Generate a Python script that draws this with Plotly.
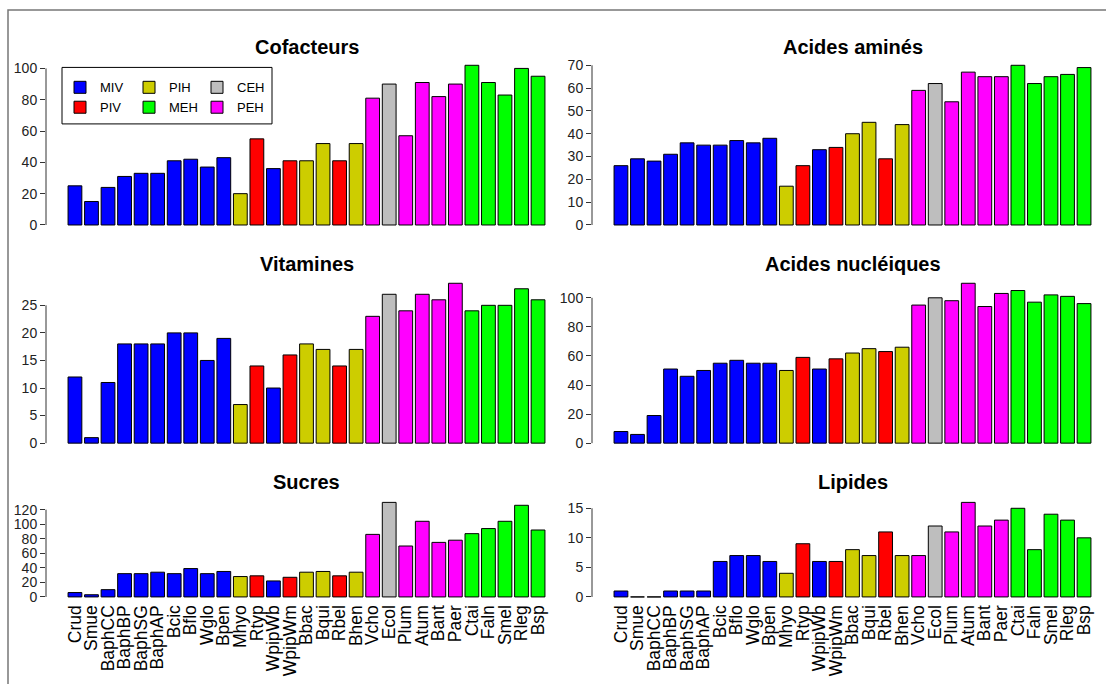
import plotly.graph_objects as go

species = ["Crud", "Smue", "BaphCC", "BaphBP", "BaphSG", "BaphAP", "Bcic", "Bflo", "Wglo", "Bpen",
           "Mhyo", "Rtyp", "WpipWb", "WpipWm", "Bbac", "Bqui", "Rbel", "Bhen", "Vcho", "Ecol",
           "Plum", "Atum", "Bant", "Paer", "Ctai", "Faln", "Smel", "Rleg", "Bsp"]
groups = ["MIV"] * 10 + ["PIH", "PIV", "MIV", "PIV", "PIH", "PIH", "PIV", "PIH", "PEH", "CEH",
                         "PEH", "PEH", "PEH", "PEH"] + ["MEH"] * 5

# legend columns (R legend with ncol = 3)
legend_columns = [["MIV", "PIV"], ["PIH", "MEH"], ["CEH", "PEH"]]
group_colors = {"MIV": "#0000FF", "PIV": "#FF0000", "PIH": "#CDCD00",
                "MEH": "#00FF00", "CEH": "#BEBEBE", "PEH": "#FF00FF"}

cofacteurs = [25, 15, 24, 31, 33, 33, 41, 42, 37, 43, 20, 55, 36, 41, 41, 52, 41, 52, 81, 90,
              57, 91, 82, 90, 102, 91, 83, 100, 95]
acides_amines = [26, 29, 28, 31, 36, 35, 35, 37, 36, 38, 17, 26, 33, 34, 40, 45, 29, 44, 59, 62,
                 54, 67, 65, 65, 70, 62, 65, 66, 69]
vitamines = [12, 1, 11, 18, 18, 18, 20, 20, 15, 19, 7, 14, 10, 16, 18, 17, 14, 17, 23, 27,
             24, 27, 26, 29, 24, 25, 25, 28, 26]
acides_nucleiques = [8, 6, 19, 51, 46, 50, 55, 57, 55, 55, 50, 59, 51, 58, 62, 65, 63, 66, 95, 100,
                     98, 110, 94, 103, 105, 97, 102, 101, 96]
sucres = [6, 3, 10, 32, 32, 34, 32, 39, 32, 35, 28, 29, 22, 27, 34, 35, 29, 34, 86, 130,
          70, 104, 75, 78, 87, 94, 104, 126, 92]
lipides = [1, 0, 0, 1, 1, 1, 6, 7, 7, 6, 4, 9, 6, 6, 8, 7, 11, 7, 7, 12,
           11, 16, 12, 13, 15, 8, 14, 13, 10]

panels = [
    ("Cofacteurs", cofacteurs, 20),
    ("Acides aminés", acides_amines, 10),
    ("Vitamines", vitamines, 5),
    ("Acides nucléiques", acides_nucleiques, 20),
    ("Sucres", sucres, 20),
    ("Lipides", lipides, 5),
]

W, H = 1106, 684
FONT = "Liberation Sans, Arial, Helvetica, sans-serif"

# plot regions in pixels
col_x = [(46, 567), (592, 1113)]
row_y = [(57.4, 231.4), (277.3, 451.5), (501.0, 604.0)]
title_y = [45, 264, 484]
legend_box = (62, 66, 272, 123)      # x0, y0, x1, y1 (px)
legend_col_x = [60, 129, 197]
legend_top = 71

fig = go.Figure()
layout = dict(
    width=W, height=H, margin=dict(l=0, r=0, t=0, b=0),
    paper_bgcolor="white", plot_bgcolor="white",
    barmode="overlay", bargap=0.2 / 1.2,
    font=dict(family=FONT, color="black"),
    showlegend=True,
)
annotations = []
shapes = []

legend_of = {}
for i, col in enumerate(legend_columns):
    for g in col:
        legend_of[g] = "legend" if i == 0 else f"legend{i + 1}"
trace_order = [g for col in legend_columns for g in col]

for k, (title, vals, dtick) in enumerate(panels):
    r, c = divmod(k, 2)
    ax = k + 1
    xname = "xaxis" if ax == 1 else f"xaxis{ax}"
    yname = "yaxis" if ax == 1 else f"yaxis{ax}"
    xref = "x" if ax == 1 else f"x{ax}"
    yref = "y" if ax == 1 else f"y{ax}"
    x0, x1 = col_x[c]
    y0, y1 = row_y[r]
    for g in trace_order:
        xs = [s for s, gg in zip(species, groups) if gg == g]
        ys = [v for v, gg in zip(vals, groups) if gg == g]
        fig.add_trace(go.Bar(
            x=xs, y=ys, name=g, xaxis=xref, yaxis=yref,
            marker=dict(color=group_colors[g], line=dict(color="black", width=1)),
            showlegend=(k == 0), legend=legend_of[g], hoverinfo="x+y",
        ))
    vmax = max(vals)
    last_tick = (vmax // dtick) * dtick
    if x1 <= W:
        xd = [x0 / W, x1 / W]
        xr = [-1.75, 29.75]
    else:
        xd = [x0 / W, 1.0]
        xr = [-1.75, -1.75 + 31.5 * (W - x0) / (x1 - x0)]
    layout[xname] = dict(
        domain=xd, type="category", categoryorder="array", categoryarray=species,
        range=xr, showgrid=False, zeroline=False, showline=False, ticks="",
        tickmode="array", tickvals=species, ticktext=species,
        showticklabels=(r == 2), tickangle=-90,
        tickfont=dict(size=17.5, family=FONT, color="black"),
        anchor=yref, fixedrange=True,
    )
    layout[yname] = dict(
        domain=[1 - y1 / H, 1 - y0 / H],
        range=[-0.04 * vmax, 1.04 * vmax],
        tickmode="array", tickvals=list(range(0, last_tick + 1, dtick)),
        showgrid=False, zeroline=False, showline=False,
        ticks="outside", ticklen=5, tickcolor="#333", tickwidth=1,
        tickfont=dict(size=14, family=FONT, color="#222"),
        anchor=xref, fixedrange=True,
    )
    shapes.append(dict(type="line", xref=f"{xref} domain", yref=yref,
                       x0=0, x1=0, y0=0, y1=last_tick,
                       line=dict(color="#333", width=1)))
    annotations.append(dict(
        text=f"<b>{title}</b>", xref="paper", yref="paper",
        x=((x0 + x1) / 2) / W, y=1 - title_y[r] / H,
        xanchor="center", yanchor="middle", showarrow=False,
        font=dict(size=20, family=FONT, color="black"),
    ))

# outer frame
shapes.append(dict(type="rect", xref="paper", yref="paper",
                   x0=8 / W, x1=1.2, y0=-0.2, y1=1 - 8 / H,
                   line=dict(color="#777", width=1.5), fillcolor="rgba(0,0,0,0)", layer="below"))
# legend box
lx0, ly0, lx1, ly1 = legend_box
shapes.append(dict(type="rect", xref="paper", yref="paper",
                   x0=lx0 / W, x1=lx1 / W, y0=1 - ly1 / H, y1=1 - ly0 / H,
                   line=dict(color="black", width=1), fillcolor="white", layer="above"))

layout["annotations"] = annotations
layout["shapes"] = shapes
for i, lx in enumerate(legend_col_x):
    name = "legend" if i == 0 else f"legend{i + 1}"
    layout[name] = dict(
        orientation="v", x=lx / W, y=1 - legend_top / H, xanchor="left", yanchor="top",
        bgcolor="rgba(0,0,0,0)", borderwidth=0,
        font=dict(size=13, family=FONT, color="black"),
        traceorder="normal", tracegroupgap=0,
        itemclick=False, itemdoubleclick=False,
    )
fig.update_layout(**layout)
fig.write_html("out.html")
